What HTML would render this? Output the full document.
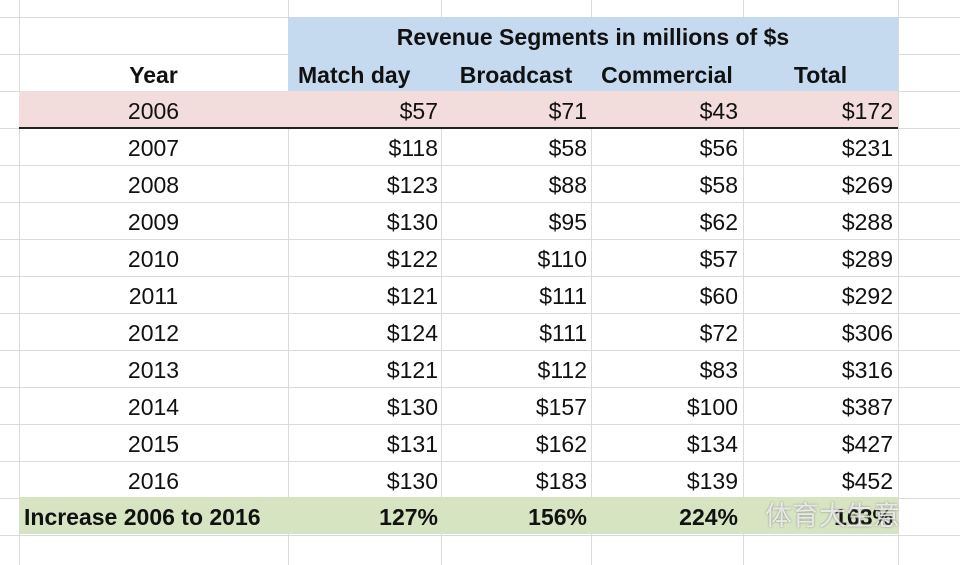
<!DOCTYPE html>
<html><head><meta charset="utf-8">
<style>
body{margin:0;width:960px;height:565px;overflow:hidden;background:#fff;font-family:"Liberation Sans","Noto Sans CJK SC",sans-serif;}
#t{position:relative;width:960px;height:565px;}
.hl{position:absolute;left:0;width:960px;height:1px;background:#dadada;z-index:0;}
.vl{position:absolute;top:0;height:565px;width:1px;background:#dadada;z-index:0;}
.fill{position:absolute;z-index:1;}
.c{position:absolute;height:37px;line-height:41px;font-size:23px;color:#111;white-space:nowrap;z-index:2;}
.b{font-weight:bold;}
</style></head><body>
<div id="t">
<div class="fill" style="left:288px;top:17px;width:610px;height:74px;background:#c5d9ef"></div>
<div class="fill" style="left:19px;top:91px;width:879px;height:37px;background:#f2dcdc"></div>
<div class="fill" style="left:19px;top:497px;width:879px;height:37px;background:#d7e4c1"></div>
</div>
<script>
const years=["2006","2007","2008","2009","2010","2011","2012","2013","2014","2015","2016"];
const matchDay=[57,118,123,130,122,121,124,121,130,131,130];
const broadcast=[71,58,88,95,110,111,111,112,157,162,183];
const commercial=[43,56,58,62,57,60,72,83,100,134,139];
const total=[172,231,269,288,289,292,306,316,387,427,452];
const increases=["127%","156%","224%","163%"];
const t=document.getElementById('t');
const colX=[19,288,441,591,743,898];
for(let i=0;i<16;i++){const l=document.createElement('div');l.className='hl';l.style.top=(17+37*i-37)+'px';


t.appendChild(l);}
colX.forEach(x=>{const l=document.createElement('div');l.className='vl';l.style.left=x+'px';


t.appendChild(l);});
const bl=document.createElement('div');bl.style.cssText='position:absolute;left:19px;top:127px;width:879px;height:2px;background:#222;z-index:1';


t.appendChild(bl);
function cell(txt,left,top,width,align,bold,name){const d=document.createElement('div');d.className='c'+(bold?' b':'');
d.style.left=left+'px';d.style.top=top+'px';d.style.width=width+'px';d.style.textAlign=align;d.textContent=txt;


t.appendChild(d);}
cell('Revenue Segments in millions of $s',288,17,610,'center',true,'segments-title');
cell('Year',19,55,269,'center',true,'year-header');
cell('Match day',298,55,143,'left',true,'matchday-header');
cell('Broadcast',441,55,150,'center',true,'broadcast-header');
cell('Commercial',591,55,152,'center',true,'commercial-header');
cell('Total',743,55,155,'center',true,'total-header');
years.forEach((y,i)=>{const top=91+37*i;
cell(y,19,top,269,'center',false,'year-cell');
cell('$'+matchDay[i],288,top,150,'right',false,'matchday-cell');
cell('$'+broadcast[i],441,top,146,'right',false,'broadcast-cell');
cell('$'+commercial[i],591,top,147,'right',false,'commercial-cell');
cell('$'+total[i],743,top,150,'right',false,'total-cell');});
const it=497;
cell('Increase 2006 to 2016',24,it,264,'left',true,'increase-label');
cell(increases[0],288,it,150,'right',true,'matchday-increase');
cell(increases[1],441,it,146,'right',true,'broadcast-increase');
cell(increases[2],591,it,147,'right',true,'commercial-increase');
cell(increases[3],743,it,150,'right',true,'total-increase');
const wm=document.createElement('div');wm.style.cssText='position:absolute;left:765px;top:497px;height:37px;line-height:39px;font-size:27px;color:rgba(255,255,255,0.75);text-shadow:0 0 2px #888;z-index:3';
wm.textContent='体育大生意';


t.appendChild(wm);
</script>
</body></html>
